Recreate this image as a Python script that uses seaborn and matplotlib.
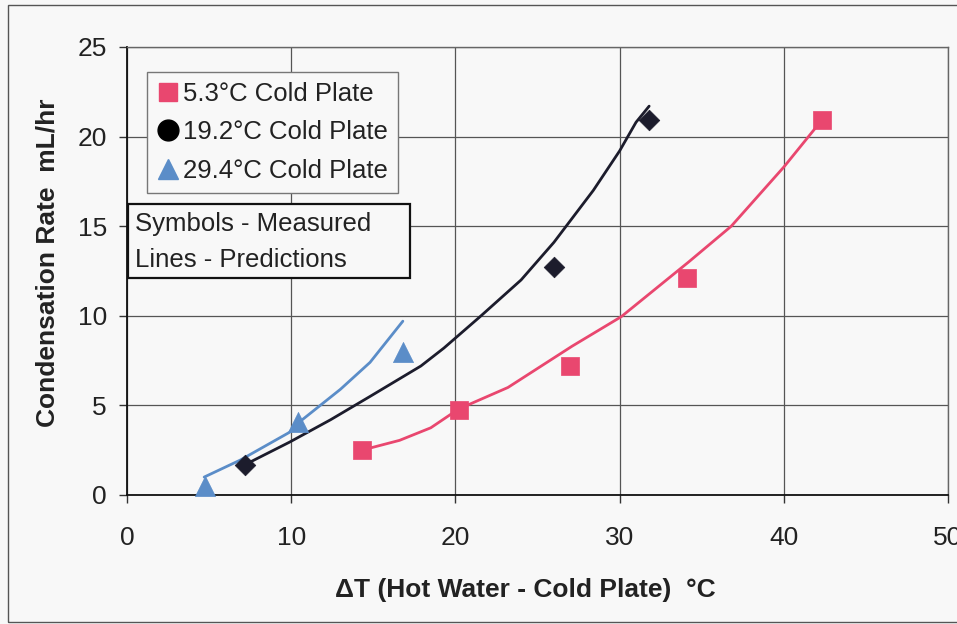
import numpy as np
import pandas as pd
import matplotlib
matplotlib.use("Agg")
import matplotlib.pyplot as plt
import seaborn as sns
from matplotlib.lines import Line2D
from matplotlib.patches import Rectangle

# ---- data ----
labels = ["5.3°C Cold Plate", "19.2°C Cold Plate", "29.4°C Cold Plate"]

meas_53_x = [14.3, 20.2, 27.0, 34.1, 42.3]
meas_53_y = [2.5, 4.75, 7.2, 12.1, 20.9]
meas_192_x = [7.2, 26.0, 31.8]
meas_192_y = [1.7, 12.7, 20.9]
meas_294_x = [4.75, 10.4, 16.8]
meas_294_y = [0.5, 4.1, 8.0]

pred_53_x = [14.3, 16.6, 18.5, 20.2, 23.2, 27.1, 30.1, 34.2, 36.8, 40.0, 42.3]
pred_53_y = [2.5, 3.05, 3.75, 4.8, 6.0, 8.3, 9.95, 13.0, 15.0, 18.3, 20.9]
pred_192_x = [7.2, 9.9, 12.4, 14.8, 17.9, 19.3, 21.5, 24.0, 26.0, 28.4, 30.0, 31.0, 31.8]
pred_192_y = [1.7, 2.95, 4.2, 5.5, 7.2, 8.2, 9.95, 12.0, 14.1, 17.0, 19.2, 20.8, 21.7]
pred_294_x = [4.7, 6.9, 9.9, 10.4, 13.0, 14.8, 16.8]
pred_294_y = [1.0, 1.95, 3.5, 4.0, 5.9, 7.4, 9.7]

x_ticks = [0, 10, 20, 30, 40, 50]
y_ticks = [0, 5, 10, 15, 20, 25]

colors = ["#E9476F", "#1C1C2C", "#5B8DC8"]
markers = ["s", "D", "^"]
msizes = [13.5, 10.5, 14.5]

sns.set_theme(style="white")
plt.rcParams["font.family"] = ["Liberation Sans", "DejaVu Sans"]

bg = "#F8F8F8"
fig = plt.figure(figsize=(9.57, 6.24), dpi=100, facecolor=bg)
ax = fig.add_axes([127 / 957, 1 - 495 / 624, (948 - 127) / 957, (495 - 47) / 624])
ax.set_facecolor(bg)

preds = [(pred_53_x, pred_53_y), (pred_192_x, pred_192_y), (pred_294_x, pred_294_y)]
meas = [(meas_53_x, meas_53_y), (meas_192_x, meas_192_y), (meas_294_x, meas_294_y)]

for (px, py), c in zip(preds, colors):
    df = pd.DataFrame({"x": px, "y": py})
    sns.lineplot(data=df, x="x", y="y", ax=ax, color=c, linewidth=2.0,
                 sort=False, estimator=None, zorder=3)

for (mx, my), c, m, s in zip(meas, colors, markers, msizes):
    df = pd.DataFrame({"x": mx, "y": my})
    sns.scatterplot(data=df, x="x", y="y", ax=ax, color=c, marker=m,
                    s=s ** 2, edgecolor=c, linewidth=0.5, zorder=4, clip_on=False)

ax.set_xlim(0, 50)
ax.set_ylim(0, 25)
ax.set_xticks(x_ticks)
ax.set_yticks(y_ticks)
ax.set_xticklabels([str(v) for v in x_ticks], fontsize=19, color="#222222")
ax.set_yticklabels([str(v) for v in y_ticks], fontsize=19, color="#222222")
ax.tick_params(axis="both", direction="out", length=5.5, width=1, color="#333333",
               bottom=True, left=True)
ax.tick_params(axis="y", pad=9)
ax.tick_params(axis="x", pad=17)

ax.grid(True, color="#555555", linewidth=0.9)
ax.set_axisbelow(True)
for side in ["left", "bottom"]:
    ax.spines[side].set_color("#111111")
    ax.spines[side].set_linewidth(1.3)
for side in ["top", "right"]:
    ax.spines[side].set_color("#666666")
    ax.spines[side].set_linewidth(1.0)

ax.set_xlabel("ΔT (Hot Water - Cold Plate)  °C", fontsize=19, fontweight="bold",
              color="#222222")
ax.set_ylabel("Condensation Rate  mL/hr", fontsize=19, fontweight="bold",
              color="#222222")
ax.xaxis.set_label_coords((525 - 127) / 821, -(590 - 495) / 448)
ax.yaxis.set_label_coords(-(127 - 48) / 821, (495 - 263) / 448)
ax.xaxis.label.set_va("center")
ax.yaxis.label.set_va("center")

handles = [
    Line2D([], [], linestyle="none", marker="s", color=colors[0], markersize=13),
    Line2D([], [], linestyle="none", marker="o", color="#000000", markersize=15),
    Line2D([], [], linestyle="none", marker="^", color=colors[2], markersize=15),
]
leg = ax.legend(handles, labels, loc="upper left",
                bbox_to_anchor=((147 - 127) / 821, (495 - 72) / 448),
                borderaxespad=0, fontsize=18.5, frameon=True, fancybox=False,
                handlelength=0.85, handletextpad=0.15, labelspacing=0.55,
                borderpad=0.4, framealpha=1)
leg.get_frame().set_edgecolor("#777777")
leg.get_frame().set_linewidth(1.0)
leg.get_frame().set_facecolor(bg)
for t in leg.get_texts():
    t.set_color("#222222")

# annotation box
x0, x1 = (128 - 127) / 821, (410 - 127) / 821
y0, y1 = (495 - 278) / 448, (495 - 204) / 448
ax.add_patch(Rectangle((x0, y0), x1 - x0, y1 - y0, transform=ax.transAxes,
                       facecolor=bg, edgecolor="#111111", linewidth=1.6, zorder=6))
ax.text((135 - 127) / 821, (495 - 224) / 448, "Symbols - Measured",
        transform=ax.transAxes, fontsize=18.5, color="#222222", va="center", zorder=7)
ax.text((135 - 127) / 821, (495 - 260) / 448, "Lines - Predictions",
        transform=ax.transAxes, fontsize=18.5, color="#222222", va="center", zorder=7)

# outer figure frame
fig.patches.append(Rectangle((8 / 957, 2 / 624), 1.0, 1 - 7 / 624,
                             transform=fig.transFigure, fill=False,
                             edgecolor="#555555", linewidth=1.0))

fig.savefig("out.png", dpi=100, facecolor=bg)
